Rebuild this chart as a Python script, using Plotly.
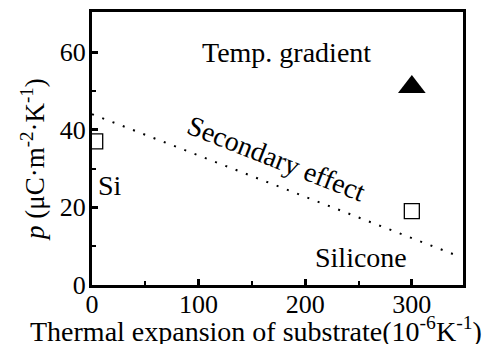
import plotly.graph_objects as go

# Data
substrate_names = ["Si", "Silicone"]
substrate_cte = [3, 300]
substrate_p = [37, 19]
temp_grad_cte = [300]
temp_grad_p = [51]
secondary_x = [0, 343]
secondary_y = [44, 7.5]

x_ticks = [0, 100, 200, 300]
y_ticks = [0, 20, 40, 60]

FONT = "Liberation Serif"
FS_TICK = 26
FS = 28

fig = go.Figure()
fig.add_trace(go.Scatter(x=secondary_x, y=secondary_y, mode="lines",
                         line=dict(color="black", width=2, dash="2px,9px"),
                         showlegend=False, hoverinfo="skip"))
fig.add_trace(go.Scatter(x=substrate_cte, y=substrate_p, mode="markers",
                         marker=dict(symbol="square-open", size=15, color="black",
                                     line=dict(width=1.3, color="black")),
                         showlegend=False))
fig.add_trace(go.Scatter(x=temp_grad_cte, y=temp_grad_p, mode="markers",
                         marker=dict(symbol="triangle-up", size=24, color="black"),
                         showlegend=False))

ann_font = dict(family=FONT, size=FS, color="black")
fig.add_annotation(x=182, y=60, text="Temp. gradient", showarrow=False, font=ann_font)
fig.add_annotation(x=17, y=25.5, text="Si", showarrow=False, font=ann_font)
fig.add_annotation(x=252, y=7.2, text="Silicone", showarrow=False, font=ann_font)
fig.add_annotation(x=173, y=32.5, text="Secondary effect", showarrow=False,
                   font=ann_font, textangle=21.5)

# axis titles as annotations for precise placement
fig.add_annotation(xref="paper", yref="paper", x=0.442, y=0, yanchor="middle", yshift=-44,
                   text="Thermal expansion of substrate(10<sup>-6</sup>K<sup>-1</sup>)",
                   showarrow=False, font=dict(family=FONT, size=FS, color="black"))
fig.add_annotation(xref="paper", yref="paper", x=0, y=0.458, xanchor="center", xshift=-59,
                   textangle=-90,
                   text="<i>p</i> (μC·m<sup>-2</sup>·K<sup>-1</sup>)",
                   showarrow=False, font=dict(family=FONT, size=FS_TICK + 1, color="black"))

axis_common = dict(showline=True, linecolor="black", linewidth=3, mirror=True,
                   ticks="inside", tickcolor="black", tickwidth=3, ticklen=6,
                   showgrid=False, zeroline=False, automargin=False,
                   tickfont=dict(family=FONT, size=FS_TICK, color="black"))

fig.update_xaxes(range=[0, 348], tickvals=x_ticks,
                 minor=dict(ticks="inside", tickvals=[50, 150, 250], ticklen=4,
                            tickwidth=2, tickcolor="black"),
                 ticklabelstandoff=-6,
                 **axis_common)
fig.update_yaxes(range=[0, 70.3], tickvals=y_ticks,
                 minor=dict(ticks="inside", tickvals=[10, 30, 50], ticklen=4,
                            tickwidth=2, tickcolor="black"),
                 ticklabelstandoff=-2,
                 **axis_common)

fig.update_layout(width=485, height=336, margin=dict(l=84, r=30, t=4, b=59),
                  plot_bgcolor="white", paper_bgcolor="white",
                  font=dict(family=FONT, color="black"))

fig.write_html("out.html")
